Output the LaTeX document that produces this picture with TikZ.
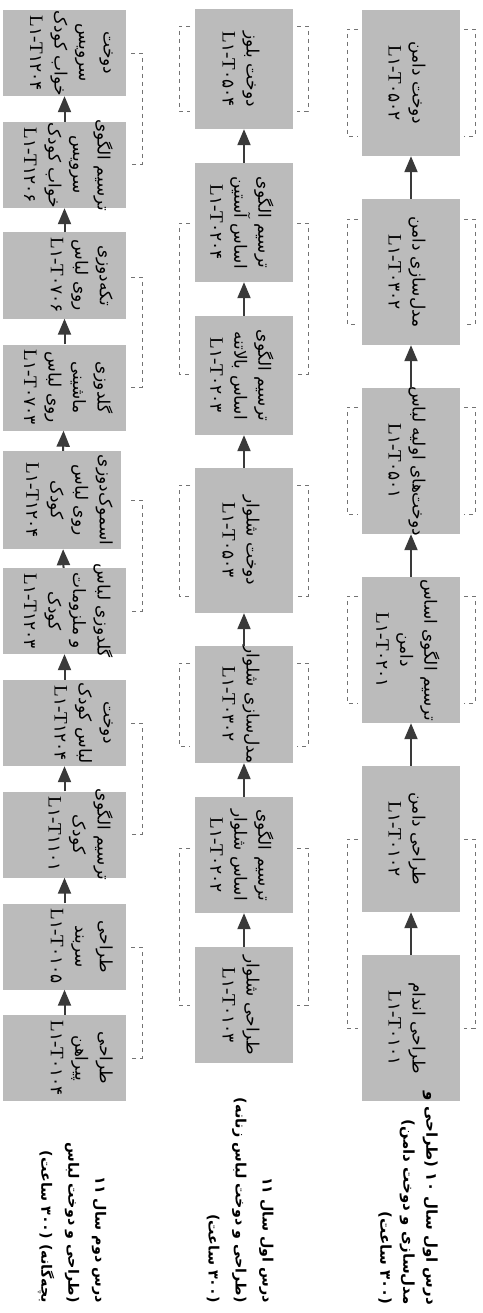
\documentclass[tikz,border=0pt]{standalone}
\usepackage{fontspec}
\usetikzlibrary{arrows.meta}
\TeXXeTstate=1
\newfontfamily\fa[Script=Arabic]{DejaVu Sans}
\newfontfamily\lat{Liberation Serif}
\definecolor{boxgray}{RGB}{187,187,187}
\definecolor{arrgray}{RGB}{58,58,58}
\definecolor{brgray}{RGB}{115,115,115}
\newcommand{\rtl}[1]{\mbox{\beginR #1\endR}}
\newcommand{\codel}[2]{\mbox{{\lat\fontsize{19}{24}\selectfont L}#1{\lat\fontsize{19}{24}\selectfont -T}#2}}
\newcommand{\mybrk}[4]{%
  \draw[br] (#1+11,#3) -- (#1,#3) -- (#1,#4) -- (#1+11,#4);
  \draw[br] (#2-11,#3) -- (#2,#3) -- (#2,#4) -- (#2-11,#4);}
\newcommand{\mybrkr}[3]{%
  \draw[br] (#1-11,#2) -- (#1,#2) -- (#1,#3) -- (#1-11,#3);}
\tikzset{
  box/.style={draw=none, fill=boxgray, inner sep=0pt},
  rbox/.style={box, minimum width=98pt, minimum height=146pt},
  mbox/.style={box, minimum width=98pt},
  lbox/.style={box, minimum width=123pt, minimum height=86pt},
  txt/.style={rotate=-90, align=center, inner sep=0pt, font=\fa\fontsize{17}{24}\selectfont},
  ltxt/.style={txt, anchor=north, font=\fa\fontsize{17}{24.5}\selectfont},
  arr/.style={draw=arrgray, line width=2pt, -{Triangle[length=16pt,width=13pt]}},
  br/.style={draw=brgray, line width=0.8pt, dash pattern=on 4pt off 4pt},
  title/.style={rotate=-90, align=right, anchor=east, inner sep=0pt, font=\fa\bfseries\fontsize{15}{23}\selectfont},
}
\begin{document}
\begin{tikzpicture}[x=1pt,y=-1pt]
\fill[white] (0,0) rectangle (482,1313);
\useasboundingbox (0,0) rectangle (482,1313);

% ---------- right column ----------
\node[rbox] (r1) at (411,83) {};
\node[rbox] (r2) at (411,272) {};
\node[rbox] (r3) at (411,461) {};
\node[rbox] (r4) at (411,650) {};
\node[rbox] (r5) at (411,839) {};
\node[rbox] (r6) at (411,1028) {};
\node[txt] (r1t) at ([xshift=-4pt]r1.center) {\rtl{دوخت دامن}\\\codel{۱}{۰۵۰۲}};
\node[txt] (r2t) at ([xshift=-4pt]r2.center) {\rtl{مدل‌سازی دامن}\\\codel{۱}{۰۳۰۲}};
\node[txt] (r3t) at ([xshift=-4pt]r3.center) {\rtl{دوخت‌های اولیه لباس}\\\codel{۱}{۰۵۰۱}};
\node[txt] (r4t) at ([xshift=-3pt]r4.center) {\rtl{ترسیم الگوی اساس}\\\rtl{دامن}\\\codel{۱}{۰۲۰۱}};
\node[txt] (r5t) at ([xshift=-4pt]r5.center) {\rtl{طراحی دامن}\\\codel{۱}{۰۱۰۲}};
\node[txt] (r6t) at ([xshift=-4pt]r6.center) {\rtl{طراحی اندام}\\\codel{۱}{۰۱۰۱}};
\draw[arr] (r6) -- (r5);
\draw[arr] (r5) -- (r4);
\draw[arr] (r4) -- (r3);
\draw[arr] (r3) -- (r2);
\draw[arr] (r2) -- (r1);
\mybrk{347}{475}{29}{136}
\mybrk{347}{475}{219}{324}
\mybrk{347}{475}{407}{514}
\mybrk{347}{475}{596}{703}
\mybrk{347}{475}{839}{1028}

% ---------- middle column ----------
\node[mbox, minimum height=120pt] (m1) at (244,69) {};
\node[mbox, minimum height=119pt] (m2) at (244,222.5) {};
\node[mbox, minimum height=119pt] (m3) at (244,375.5) {};
\node[mbox, minimum height=145pt] (m4) at (244,540.5) {};
\node[mbox, minimum height=117pt] (m5) at (244,704.5) {};
\node[mbox, minimum height=116pt] (m6) at (244,855) {};
\node[mbox, minimum height=116pt] (m7) at (244,1005) {};
\node[txt] (m1t) at ([xshift=-3pt]m1.center) {\rtl{دوخت بلوز}\\\codel{۱}{۰۵۰۴}};
\node[txt] (m2t) at ([xshift=-2pt]m2.center) {\rtl{ترسیم الگوی}\\\rtl{اساس آستین}\\\codel{۱}{۰۲۰۴}};
\node[txt] (m3t) at ([xshift=-2pt]m3.center) {\rtl{ترسیم الگوی}\\\rtl{اساس بالاتنه}\\\codel{۱}{۰۲۰۳}};
\node[txt] (m4t) at ([xshift=-3pt]m4.center) {\rtl{دوخت شلوار}\\\codel{۱}{۰۵۰۳}};
\node[txt] (m5t) at ([xshift=-3pt]m5.center) {\rtl{مدل‌سازی شلوار}\\\codel{۱}{۰۳۰۲}};
\node[txt] (m6t) at ([xshift=-2pt]m6.center) {\rtl{ترسیم الگوی}\\\rtl{اساس شلوار}\\\codel{۱}{۰۲۰۲}};
\node[txt] (m7t) at ([xshift=-3pt]m7.center) {\rtl{طراحی شلوار}\\\codel{۱}{۰۱۰۳}};
\draw[arr] (m7) -- (m6);
\draw[arr] (m6) -- (m5);
\draw[arr] (m5) -- (m4);
\draw[arr] (m4) -- (m3);
\draw[arr] (m3) -- (m2);
\draw[arr] (m2) -- (m1);
\mybrk{179}{308}{26}{111}
\mybrk{179}{308}{223}{374}
\mybrk{179}{308}{485}{596}
\mybrk{179}{308}{663}{746}
\mybrk{179}{308}{848}{1005}

% ---------- left column ----------
\node[lbox] (l1) at (64.5,53) {};
\node[lbox] (l2) at (64.5,165) {};
\node[lbox] (l3) at (64.5,275.5) {};
\node[lbox] (l4) at (64.5,387.5) {};
\node[box, minimum width=118pt, minimum height=98pt] (l5) at (62,500) {};
\node[lbox] (l6) at (64.5,611) {};
\node[lbox] (l7) at (64.5,723) {};
\node[lbox] (l8) at (64.5,834.5) {};
\node[lbox] (l9) at (64.5,946.5) {};
\node[lbox] (l10) at (64.5,1058) {};
\node[ltxt] (l1t) at (113,53) {\rtl{دوخت}\\\rtl{سرویس}\\\rtl{خواب کودک}\\\codel{۱}{۱۲۰۴}};
\node[ltxt] (l2t) at (113,165) {\rtl{ترسیم الگوی}\\\rtl{سرویس}\\\rtl{خواب کودک}\\\codel{۱}{۱۲۰۶}};
\node[ltxt] (l3t) at (113,275.5) {\rtl{تکه‌دوزی}\\\rtl{روی لباس}\\\codel{۱}{۰۷۰۶}};
\node[ltxt] (l4t) at (113,387.5) {\rtl{گلدوزی}\\\rtl{ماشینی}\\\rtl{روی لباس}\\\codel{۱}{۰۷۰۳}};
\node[ltxt] (l5t) at (113,500) {\rtl{اسموک‌دوزی}\\\rtl{روی لباس}\\\rtl{کودک}\\\codel{۱}{۱۲۰۴}};
\node[ltxt] (l6t) at (113,611) {\rtl{گلدوزی لباس}\\\rtl{و ملزومات}\\\rtl{کودک}\\\codel{۱}{۱۲۰۳}};
\node[ltxt] (l7t) at (113,723) {\rtl{دوخت}\\\rtl{لباس کودک}\\\codel{۱}{۱۲۰۴}};
\node[ltxt] (l8t) at (113,834.5) {\rtl{ترسیم الگوی}\\\rtl{کودک}\\\codel{۱}{۱۱۰۱}};
\node[ltxt] (l9t) at (113,946.5) {\rtl{طراحی}\\\rtl{سربند}\\\codel{۱}{۰۱۰۵}};
\node[ltxt] (l10t) at (113,1058) {\rtl{طراحی}\\\rtl{پیراهن}\\\codel{۱}{۰۱۰۴}};
\draw[arr] (l10) -- (l9);
\draw[arr] (l9) -- (l8);
\draw[arr] (l8) -- (l7);
\draw[arr] (l7) -- (l6);
\draw[arr] (l6) -- (l5);
\draw[arr] (l5) -- (l4);
\draw[arr] (l4) -- (l3);
\draw[arr] (l3) -- (l2);
\draw[arr] (l2) -- (l1);
\mybrkr{142}{53}{164}
\mybrkr{142}{277}{387}
\mybrkr{142}{500}{611}
\mybrkr{142}{723}{834}
\mybrkr{142}{947}{1058}

% ---------- titles ----------
\node[title] (tr) at (408,1305) {\rtl{درس اول سال ۱۰ (طراحی و}\\\rtl{مدل‌سازی و دوخت دامن)}\\\rtl{(۳۰۰ ساعت)}};
\node[title, font=\fa\bfseries\fontsize{14.3}{27}\selectfont] (tm) at (240,1303) {\rtl{درس اول سال ۱۱}\\\rtl{(طراحی و دوخت لباس زنانه)}\\\rtl{(۳۰۰ ساعت)}};
\node[title, font=\fa\bfseries\fontsize{14.3}{27}\selectfont] (tl) at (72,1303) {\rtl{درس دوم سال ۱۱}\\\rtl{(طراحی و دوخت لباس}\\\rtl{بچه‌گانه) (۳۰۰ ساعت)}};
\end{tikzpicture}
\end{document}
